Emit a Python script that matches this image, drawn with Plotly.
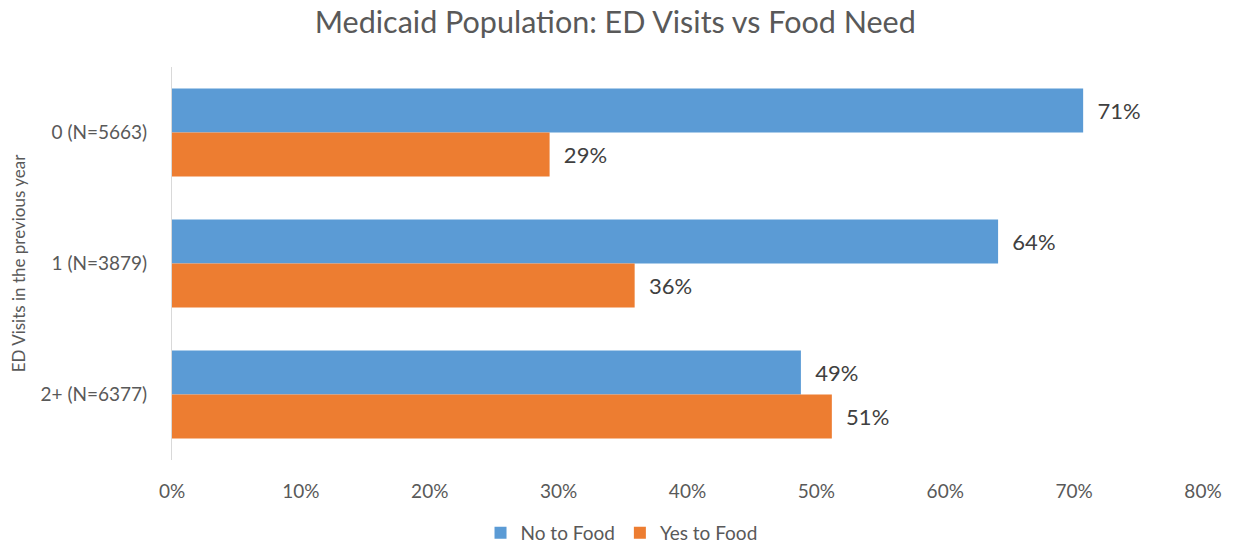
import plotly.graph_objects as go

categories = ["0 (N=5663)", "1 (N=3879)", "2+ (N=6377)"]
no_food = [70.7, 64.1, 48.8]
yes_food = [29.3, 35.9, 51.2]
x_ticks = [0, 10, 20, 30, 40, 50, 60, 70, 80]
x_tick_labels = ["0%", "10%", "20%", "30%", "40%", "50%", "60%", "70%", "80%"]

FONT = "Lato, 'Open Sans', sans-serif"
GREY = "#595959"
PAD = "\u00a0\u00a0"

fig = go.Figure()
fig.add_trace(go.Bar(
    y=categories, x=no_food, name="No to Food", orientation="h",
    marker=dict(color="#5B9BD5", line=dict(width=0)),
    texttemplate=PAD + "%{x:.0f}%", textposition="outside",
    textfont=dict(size=22, color="#404040", family=FONT),
    cliponaxis=False,
))
fig.add_trace(go.Bar(
    y=categories, x=yes_food, name="Yes to Food", orientation="h",
    marker=dict(color="#ED7D31", line=dict(width=0)),
    texttemplate=PAD + "%{x:.0f}%", textposition="outside",
    textfont=dict(size=22, color="#404040", family=FONT),
    cliponaxis=False,
))

fig.update_layout(
    width=1243, height=548,
    margin=dict(l=172, r=40, t=67, b=88, autoexpand=False),
    paper_bgcolor="white", plot_bgcolor="white",
    barmode="group", bargap=0.33, bargroupgap=0,
    font=dict(family=FONT, color=GREY, size=19),
    title=dict(text="Medicaid Population: ED Visits vs Food Need",
               x=0.495, xanchor="center", y=0.96, yanchor="middle",
               font=dict(size=30.5, color=GREY, family=FONT)),
    xaxis=dict(range=[0, 80], tickvals=x_ticks, ticktext=x_tick_labels,
               showgrid=False, zeroline=False, showline=False,
               automargin=False,
               ticks="outside", ticklen=14, tickcolor="rgba(0,0,0,0)",
               tickfont=dict(size=19, color=GREY)),
    yaxis=dict(autorange="reversed", showgrid=False, zeroline=False,
               showline=True, linecolor="#D9D9D9", linewidth=1,
               automargin=False,
               ticks="outside", ticklen=20, tickcolor="rgba(0,0,0,0)",
               tickfont=dict(size=19, color=GREY),
               title=dict(text="ED Visits in the previous year",
                          font=dict(size=17, color=GREY), standoff=10)),
    legend=dict(orientation="h", x=0.436, xanchor="center",
                y=-0.137, yanchor="top", font=dict(size=19, color=GREY),
                itemwidth=30, traceorder="normal"),
    showlegend=True,
)

fig.write_html("out.html")
